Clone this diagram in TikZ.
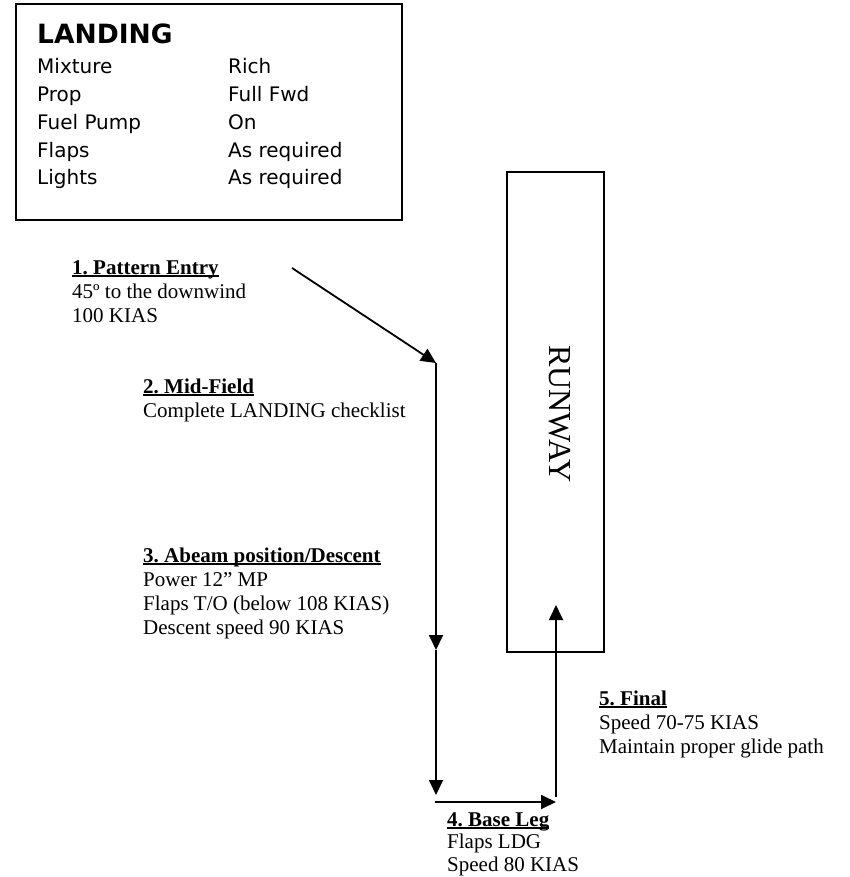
\documentclass[tikz,border=0pt]{standalone}
\usepackage{fontspec}
\setmainfont{Liberation Serif}
\newfontfamily\boxfont{DejaVu Sans}
\usetikzlibrary{arrows.meta}
\newcommand\headul[1]{\setbox0\hbox{\textbf{#1}}\rlap{\rule[-2.6pt]{\wd0}{1.5pt}}\box0}
\begin{document}
\frenchspacing
\begin{tikzpicture}[x=1pt,y=-1pt,
  lbl/.style={anchor=base west, inner sep=0pt, font=\frenchspacing\fontsize{21}{24}\selectfont},
  arr/.style={line width=1.8pt, -{Triangle[length=15pt,width=14pt]}},
  frame/.style={draw, line width=2pt, inner sep=0pt}
]
\useasboundingbox (0,0) rectangle (850,877);

% checklist box
\node[frame, anchor=north west, minimum width=386pt, minimum height=216pt] (landbox) at (15,3) {};
\node[anchor=base west, inner sep=0pt, font=\boxfont\bfseries\fontsize{26.5}{30}\selectfont] (landtitle) at (37,44) {LANDING};
\node[anchor=base west, inner sep=0pt, font=\boxfont\fontsize{20}{27.75}\selectfont] (landlist) at (37,74)
  {\begin{tabular}[t]{@{}p{191pt}@{}l@{}}
   Mixture & Rich\\
   Prop & Full Fwd\\
   Fuel Pump & On\\
   Flaps & As required\\
   Lights & As required
   \end{tabular}};

% runway
\node[draw, line width=1.5pt, minimum width=97pt, minimum height=480pt, inner sep=0pt] (runway) at (555.5,412) {};
\node[rotate=-90, inner sep=0pt, font=\fontsize{32}{36}\selectfont] (rwtext) at (560,414) {RUNWAY};

% path coordinates
\coordinate (entry) at (292,268);
\coordinate (turn) at (436,363);
\coordinate (mid) at (436,650);
\coordinate (basecorner) at (436,795);
\coordinate (basestart) at (435,802);
\coordinate (baseend) at (556,802);
\coordinate (finalstart) at (556,797);
\coordinate (finaltip) at (556,605);

\draw[arr] (entry) -- (turn);
\draw[arr] (turn) -- (mid);
\draw[arr] (mid) -- (basecorner);
\draw[arr] (basestart) -- (baseend);
\draw[arr] (finalstart) -- (finaltip);

% labels
\node[lbl] (t1) at (72,274) {\begin{tabular}[t]{@{}l@{}}
  \headul{1. Pattern Entry}\\
  45º to the downwind\\
  100 KIAS\end{tabular}};
\node[lbl] (t2) at (143,393) {\begin{tabular}[t]{@{}l@{}}
  \headul{2. Mid-Field}\\
  Complete LANDING checklist\end{tabular}};
\node[lbl] (t3) at (143,562) {\begin{tabular}[t]{@{}l@{}}
  \headul{3. Abeam position/Descent}\\
  Power 12” MP\\
  Flaps T/O (below 108 KIAS)\\
  Descent speed 90 KIAS\end{tabular}};
\node[lbl, font=\frenchspacing\fontsize{21}{22.5}\selectfont] (t4) at (447,826) {\begin{tabular}[t]{@{}l@{}}
  \headul{4. Base Leg}\\
  Flaps LDG\\
  Speed 80 KIAS\end{tabular}};
\node[lbl] (t5) at (599,705) {\begin{tabular}[t]{@{}l@{}}
  \headul{5. Final}\\
  Speed 70-75 KIAS\\
  Maintain proper glide path\end{tabular}};
\end{tikzpicture}
\end{document}
